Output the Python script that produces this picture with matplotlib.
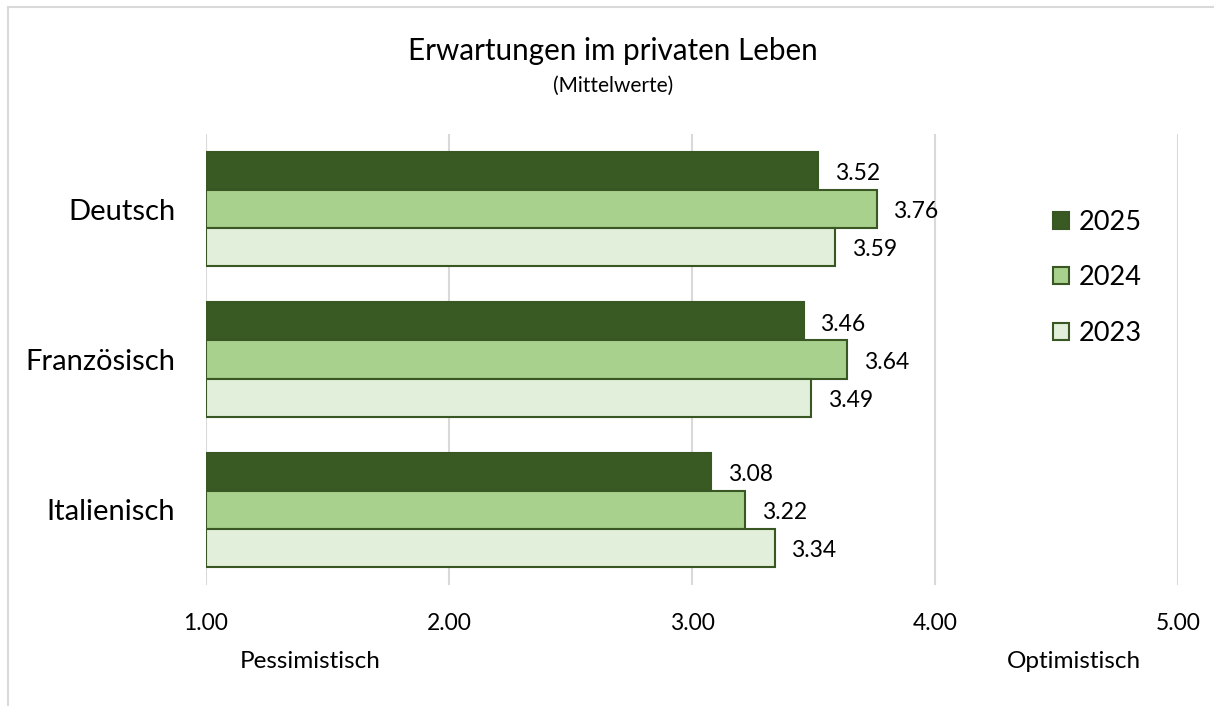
import matplotlib.pyplot as plt
from matplotlib.lines import Line2D
import numpy as np

plt.rcParams['font.family'] = ['Lato', 'DejaVu Sans']

# data
categories = ['Deutsch', 'Französisch', 'Italienisch']
years = ['2025', '2024', '2023']
values_2025 = [3.52, 3.46, 3.08]
values_2024 = [3.76, 3.64, 3.22]
values_2023 = [3.59, 3.49, 3.34]
xticks = [1.0, 2.0, 3.0, 4.0, 5.0]

colors = ['#3A5A24', '#A9D18E', '#E2EFDA']
edge = '#385723'

fig = plt.figure(figsize=(12.14, 7.06), dpi=100)
ax = fig.add_axes([0.1697, 0.1714, 0.8006, 0.6388])

y = np.arange(len(categories))
h = 0.253
series = [values_2025, values_2024, values_2023]
for k, (vals, col, yr) in enumerate(zip(series, colors, years)):
    pos = y + (k - 1) * h
    ax.barh(pos, np.array(vals) - 1.0, left=1.0, height=h, color=col,
            edgecolor=edge, linewidth=1.5, label=yr, zorder=3)
    for p, v in zip(pos, vals):
        ax.annotate(f'{v:.2f}', xy=(v, p), xytext=(12, -2),
                    textcoords='offset points', ha='left', va='center',
                    fontsize=16.5, color='#000000')

ax.set_xlim(1, 5)
ax.set_ylim(2.5, -0.5)
ax.set_xticks(xticks)
ax.set_xticklabels([f'{t:.2f}' for t in xticks], fontsize=16.5)
ax.set_yticks(y)
ax.set_yticklabels(categories, fontsize=21)
ax.tick_params(axis='both', length=0)
ax.tick_params(axis='x', pad=20)
ax.tick_params(axis='y', pad=22)
ax.grid(axis='x', color='#D9D9D9', linewidth=1.5, zorder=0)
for s in ax.spines.values():
    s.set_visible(False)

fig.text(0.505, 0.928, 'Erwartungen im privaten Leben', ha='center',
         va='center', fontsize=21.3)
fig.text(0.505, 0.879, '(Mittelwerte)', ha='center', va='center', fontsize=15)
fig.text(0.2555, 0.063, 'Pessimistisch', ha='center', va='center', fontsize=17.5)
fig.text(0.885, 0.063, 'Optimistisch', ha='center', va='center', fontsize=17.5)

leg = fig.legend(loc='upper left', bbox_to_anchor=(0.847, 0.737), frameon=False,
                 fontsize=19.5, handlelength=0.6, handleheight=0.6,
                 handletextpad=0.35, labelspacing=1.12)

# chart frame (only left and top edges visible)
fig.add_artist(Line2D([0.0066, 0.0066], [0.0, 0.99], transform=fig.transFigure,
                      color='#D9D9D9', linewidth=1.5))
fig.add_artist(Line2D([0.0066, 1.0], [0.99, 0.99], transform=fig.transFigure,
                      color='#D9D9D9', linewidth=1.5))

fig.savefig('out.png', dpi=100)
